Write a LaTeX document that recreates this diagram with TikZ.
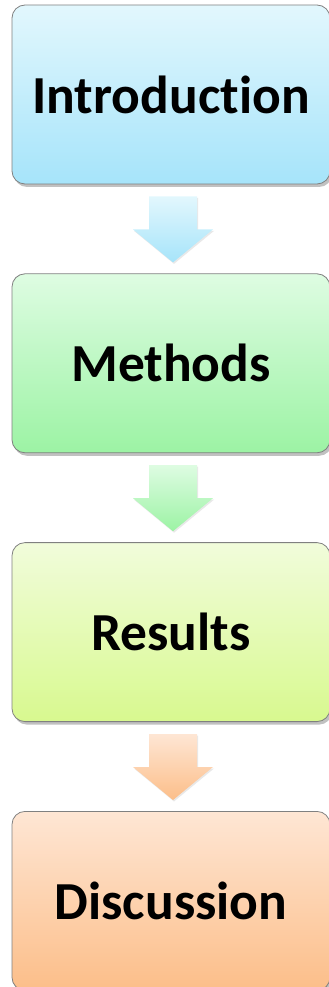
\documentclass[tikz,border=0pt]{standalone}
\usepackage{fontspec}
\setmainfont{Carlito}[Ligatures=NoCommon]
\usepackage{xcolor}
\usepackage{tikz}
\usetikzlibrary{positioning, shadows, calc}
\definecolor{introA}{HTML}{E2F7FD}
\definecolor{introB}{HTML}{A6E4FA}
\definecolor{methodsA}{HTML}{DEFCE2}
\definecolor{methodsB}{HTML}{9CF3A4}
\definecolor{resultsA}{HTML}{F1FCDB}
\definecolor{resultsB}{HTML}{D8F98F}
\definecolor{discussA}{HTML}{FEE6D4}
\definecolor{discussB}{HTML}{FCBE89}

\tikzset{
  stage/.style={draw=black!50, line width=0.8pt, rounded corners=13pt,
    minimum width=318pt, minimum height=179pt,
    font=\fontsize{53.5}{60}\selectfont\bfseries,
    drop shadow={shadow xshift=2pt, shadow yshift=-3pt, opacity=0.35, fill=black!70}},
  flowarrow/.style={drop shadow={shadow xshift=1pt, shadow yshift=-1.5pt, opacity=0.15, fill=black!60}}
}

\begin{document}
\begin{tikzpicture}[x=1pt, y=1pt, node distance=89pt]
    \useasboundingbox (0,0) rectangle (329,-987);
    \node[stage, top color=introA, bottom color=introB] (intro) at (171,-94.5) {Introduction};
    \node[stage, top color=methodsA, bottom color=methodsB, below=of intro] (methods) {Methods};
    \node[stage, top color=resultsA, bottom color=resultsB, below=of methods] (results) {Results};
    \node[stage, top color=discussA, bottom color=discussB, below=of results] (discuss) {Discussion};
    \foreach \from/\to/\tone in {intro/methods/intro, methods/results/methods, results/discuss/discuss} {
      \path[flowarrow, top color=\tone A, bottom color=\tone B]
        ($(\from.south)+(-22,-12)$) -- ($(\from.south)+(26,-12)$) -- ($(\from.south)+(26,-45)$)
        -- ($(\from.south)+(42,-45)$) -- ($(\to.north)+(2,11)$) -- ($(\from.south)+(-38,-45)$)
        -- ($(\from.south)+(-22,-45)$) -- cycle;
    }
\end{tikzpicture}
\end{document}
